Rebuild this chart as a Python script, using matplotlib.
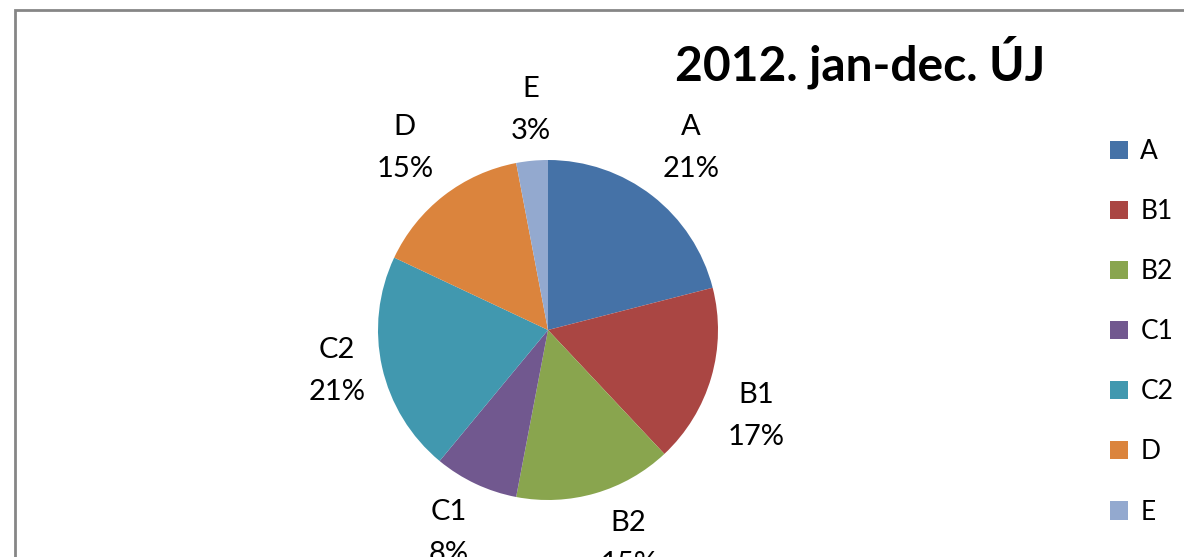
import numpy as np
import matplotlib
matplotlib.use("Agg")
import matplotlib.pyplot as plt
from matplotlib.patches import Rectangle, Patch

# adatok
categories = ["A", "B1", "B2", "C1", "C2", "D", "E"]
values = [21, 17, 15, 8, 21, 15, 3]
colors = ["#4572A7", "#AA4643", "#89A54E", "#71588F", "#4198AF", "#DB843D", "#93A9CF"]
title = "2012. jan-dec. ÚJ"

plt.rcParams["font.family"] = ["Lato", "DejaVu Sans"]

W, H = 1184, 557
fig = plt.figure(figsize=(W / 100, H / 100), dpi=100)

# keret (jobb és alsó oldal levágva)
fig.add_artist(Rectangle((15 / W, -0.1), 1.2, (H - 10) / H + 0.1, transform=fig.transFigure,
                         fill=False, edgecolor="#868686", linewidth=2))

# kördiagram
cx, cy, r = 548, H - 330, 170
ax = fig.add_axes([(cx - r) / W, (cy - r) / H, 2 * r / W, 2 * r / H])
wedges, _ = ax.pie(values, colors=colors, startangle=90, counterclock=False,
                   radius=1.0, wedgeprops=dict(linewidth=0))
ax.set_xlim(-1, 1)
ax.set_ylim(-1, 1)
ax.axis("off")

# címkék - a szelet közepénél, kifelé igazítva (mint Excelben)
total = sum(values)
for w, cat, v in zip(wedges, categories, values):
    ang = np.deg2rad((w.theta1 + w.theta2) / 2)
    c, s = np.cos(ang), np.sin(ang)
    ha = "left" if c > 0.25 else ("right" if c < -0.25 else "center")
    va = "bottom" if s > 0.25 else ("top" if s < -0.25 else "center")
    d = 1.1
    ax.text(d * c, d * s, f"{cat}\n{round(100 * v / total)}%",
            ha=ha, va=va, multialignment="center", fontsize=21, linespacing=1.75,
            clip_on=False)

# cím
fig.text(860 / W, 1 - 62 / H, title, ha="center", va="center", fontsize=34.5, fontweight="bold")

# jelmagyarázat
handles = [Patch(facecolor=c, edgecolor="none") for c in colors]
fig.legend(handles, categories, loc="upper left", bbox_to_anchor=(1110 / W, 1 - 139 / H),
           frameon=False, fontsize=19, handlelength=0.7, handleheight=0.7,
           handletextpad=0.45, labelspacing=1.33, borderpad=0, borderaxespad=0)

fig.savefig("out.png", dpi=100)
